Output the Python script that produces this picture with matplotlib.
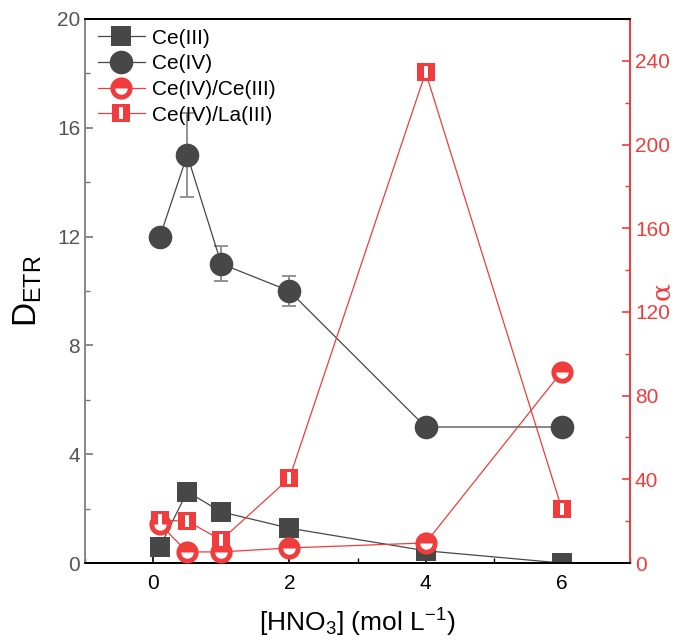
import matplotlib
matplotlib.use("Agg")
import matplotlib.pyplot as plt
from matplotlib.path import Path
from matplotlib.ticker import MultipleLocator
import numpy as np

plt.rcParams['font.family'] = ['Liberation Sans', 'DejaVu Sans']
plt.rcParams['mathtext.default'] = 'regular'

x = [0.1, 0.5, 1, 2, 4, 6]
ce3 = [0.6, 2.62, 1.88, 1.28, 0.45, 0.0]
ce4 = [12.0, 15.0, 11.0, 10.0, 5.0, 5.0]
ce4_err = [0.0, 1.55, 0.65, 0.55, 0.0, 0.3]
sep_ce = [18.5, 5.3, 5.3, 7.2, 9.6, 91.5]
sep_la = [20.5, 20.0, 11.0, 40.5, 234.5, 25.8]

gray = '#474747'
red = '#f03c3c'

fig = plt.figure(figsize=(6.98, 6.43), dpi=100)
ax = fig.add_axes([0.1218, 0.1244, 0.9026 - 0.1218, 0.9705 - 0.1244])
ax2 = ax.twinx()

# left axis data
ax.errorbar(x, ce4, yerr=ce4_err, fmt='none', ecolor='#8a8a8a', elinewidth=1.3, capsize=5, capthick=1.3, zorder=2)
l1, = ax.plot(x, ce3, color=gray, marker='s', markersize=14.5, lw=0.9, markeredgewidth=0, label='Ce(III)', zorder=3)
l2, = ax.plot(x, ce4, color=gray, marker='o', markersize=17, lw=0.9, markeredgewidth=0, label='Ce(IV)', zorder=3)

# right axis data
bar = Path([(-0.3, -1), (0.3, -1), (0.3, 1), (-0.3, 1), (-0.3, -1)],
           [Path.MOVETO, Path.LINETO, Path.LINETO, Path.LINETO, Path.CLOSEPOLY])
l3, = ax2.plot(x, sep_ce, color=red, marker='o', markersize=16, lw=0.9, markeredgewidth=0, zorder=3)
l3w, = ax2.plot(x, sep_ce, color='white', marker='o', fillstyle='bottom', markersize=9,
                markerfacecoloralt='none', lw=0, markeredgewidth=0, zorder=4)
l4, = ax2.plot(x, sep_la, color=red, marker='s', markersize=13.5, lw=0.9, markeredgewidth=0, zorder=3)
l4w, = ax2.plot(x, sep_la, color='white', marker=bar, markersize=8, lw=0, markeredgewidth=0, zorder=4)

ax.set_xlim(-1, 7)
ax.set_ylim(0, 20)
ax2.set_ylim(0, 260)

ax.xaxis.set_major_locator(MultipleLocator(2))
ax.xaxis.set_minor_locator(MultipleLocator(1))
ax.yaxis.set_major_locator(MultipleLocator(4))
ax.yaxis.set_minor_locator(MultipleLocator(2))
ax2.yaxis.set_major_locator(MultipleLocator(40))
ax2.yaxis.set_minor_locator(MultipleLocator(20))

ax.tick_params(axis='x', which='both', direction='in', color='black', labelsize=15, pad=8)
ax.tick_params(axis='x', which='major', length=6, width=1.2)
ax.tick_params(axis='x', which='minor', length=3.5, width=1)
ax.tick_params(axis='y', which='both', direction='in', color='#777777', labelcolor='#555555', labelsize=15)
ax.tick_params(axis='y', which='major', length=6, width=1.2)
ax.tick_params(axis='y', which='minor', length=3.5, width=1)
ax2.tick_params(axis='y', which='both', direction='in', color=red, labelcolor=red, labelsize=15)
ax2.tick_params(axis='y', which='major', length=6, width=1.2)
ax2.tick_params(axis='y', which='minor', length=3.5, width=1)

for a in (ax, ax2):
    a.spines['left'].set_color('#888888')
    a.spines['right'].set_color(red)
    a.spines['top'].set_color('black')
    a.spines['bottom'].set_color('black')
    for s in a.spines.values():
        s.set_linewidth(1.3)

ax.set_xlabel('[HNO$_3$] (mol L$^{-1}$)', fontsize=19, labelpad=10)
ax.set_ylabel('D$_{ETR}$', fontsize=24, labelpad=9)
ax2.set_ylabel('α', fontsize=19, color=red, family='DejaVu Serif')
ax2.yaxis.set_label_coords(1.035, 0.5)

leg = ax.legend([l1, l2, (l3, l3w), (l4, l4w)], ['Ce(III)', 'Ce(IV)', 'Ce(IV)/Ce(III)', 'Ce(IV)/La(III)'],
                loc='upper left', bbox_to_anchor=(0.0, 1.005), frameon=False, fontsize=15,
                handlelength=2.3, handletextpad=0.3, labelspacing=0.32, borderaxespad=0.2)
leg.set_zorder(10)

fig.savefig('out.png', dpi=100)
